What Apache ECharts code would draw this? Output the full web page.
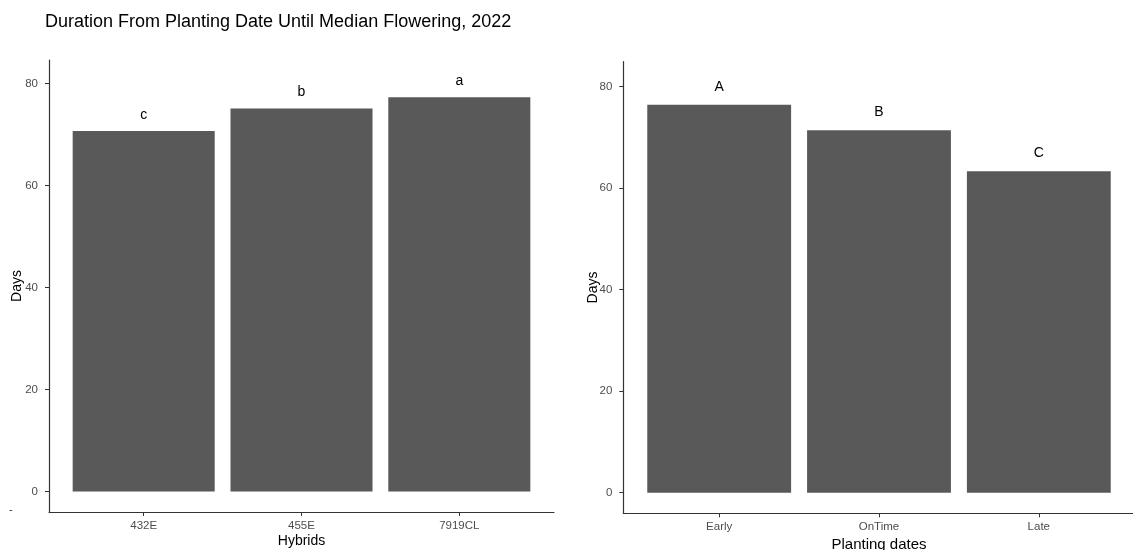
<!DOCTYPE html>
<html>
<head>
<meta charset="utf-8">
<script src="https://cdn.jsdelivr.net/npm/echarts@6/dist/echarts.min.js"></script>
<style>
html,body{margin:0;padding:0;background:#fff;}
#chart{width:1133px;height:550px;}
</style>
</head>
<body>
<div id="chart"></div>
<script>
// ---- data ----
const titleText = "Duration From Planting Date Until Median Flowering, 2022";
const hybrids = ["432E", "455E", "7919CL"];
const hybridDays = [70.7, 75.1, 77.3];
const hybridLetters = ["c", "b", "a"];
const plantingDates = ["Early", "OnTime", "Late"];
const plantingDays = [76.4, 71.4, 63.3];
const plantingLetters = ["A", "B", "C"];
const yTicks = [0, 20, 40, 60, 80];

// ---- layout ----
const FONT = '"Liberation Sans", Arial, sans-serif';
const barColor = '#595959';
const axisColor = '#333333';
const tickLabelColor = '#4d4d4d';

const g1 = {left: 49, top: 60, width: 505, height: 452};
const g2 = {left: 623.3, top: 61.7, width: 511.4, height: 451.6};

function xAxisFor(gridIndex, cats, name, nameGap, nameSize) {
  return {
    type: 'value', gridIndex: gridIndex, min: 0.4, max: 3.6,
    name: name, nameLocation: 'middle', nameGap: nameGap, nameMoveOverlap: false,
    nameTextStyle: {fontFamily: FONT, fontSize: nameSize, color: '#000'},
    splitLine: {show: false},
    axisLine: {show: true, onZero: false, lineStyle: {color: axisColor, width: 1.2}},
    axisTick: {show: true, length: 4, customValues: [1, 2, 3], lineStyle: {color: axisColor}},
    axisLabel: {customValues: [1, 2, 3], margin: 8, fontFamily: FONT, fontSize: 11.5, color: tickLabelColor,
      formatter: v => cats[Math.round(v) - 1] || ''}
  };
}
function yAxisFor(gridIndex, min, max, nameGap) {
  return {
    type: 'value', gridIndex: gridIndex, min: min, max: max,
    name: 'Days', nameLocation: 'middle', nameGap: nameGap, nameMoveOverlap: false,
    nameTextStyle: {fontFamily: FONT, fontSize: 14, color: '#000'},
    splitLine: {show: false},
    axisLine: {show: true, onZero: false, lineStyle: {color: axisColor, width: 1.2}},
    axisTick: {show: true, length: 4, customValues: yTicks, lineStyle: {color: axisColor}},
    axisLabel: {customValues: yTicks, margin: 11, fontFamily: FONT, fontSize: 11.5, color: tickLabelColor}
  };
}
function barSeries(idx, values, letters, barWidth, dist) {
  return {
    type: 'bar', xAxisIndex: idx, yAxisIndex: idx,
    barWidth: barWidth,
    itemStyle: {color: barColor},
    label: {show: true, position: 'top', distance: dist, fontFamily: FONT, fontSize: 14, color: '#000',
      formatter: p => letters[p.dataIndex]},
    data: values.map((v, i) => [i + 1, v]),
    silent: true
  };
}

const chart = echarts.init(document.getElementById('chart'), null, {renderer: 'canvas'});
chart.setOption({
  animation: false,
  backgroundColor: '#fff',
  title: {text: titleText, left: 40, top: 8,
    textStyle: {fontFamily: FONT, fontSize: 18, fontWeight: 'normal', color: '#000'}},
  grid: [
    Object.assign({containLabel: false, outerBoundsMode: 'none'}, g1),
    Object.assign({containLabel: false, outerBoundsMode: 'none'}, g2)
  ],
  xAxis: [xAxisFor(0, hybrids, 'Hybrids', 22, 14), xAxisFor(1, plantingDates, 'Planting dates', 24, 15)],
  yAxis: [yAxisFor(0, -4.03, 84.6, 25), yAxisFor(1, -4.06, 84.9, 23)],
  series: [
    barSeries(0, hybridDays, hybridLetters, 0.9 * g1.width / 3.2, 9),
    barSeries(1, plantingDays, plantingLetters, 0.9 * g2.width / 3.2, 11)
  ],
  graphic: [
    {type: 'text', left: 9, top: 504, style: {text: '-', fontFamily: FONT, fontSize: 11, fill: '#333'}}
  ]
});
</script>
</body>
</html>
